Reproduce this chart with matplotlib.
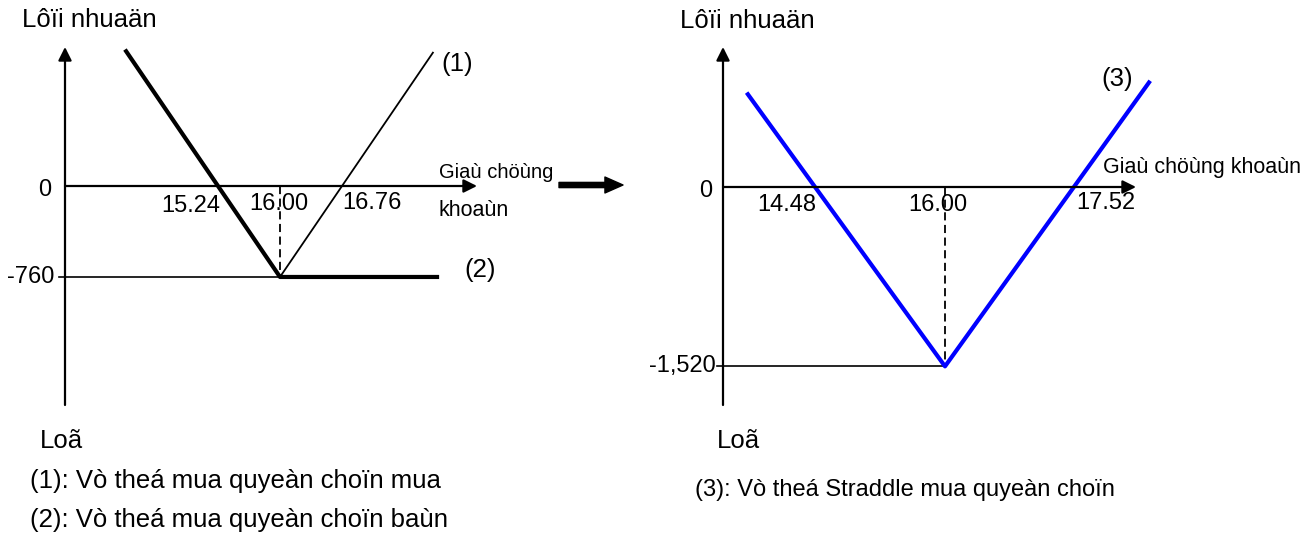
import matplotlib.pyplot as plt
from matplotlib.patches import FancyArrowPatch, ArrowStyle

plt.rcParams["font.family"] = ["Liberation Sans", "DejaVu Sans"]

W, H = 1307, 545
dpi = 100

# left chart: (1) long call, (2) long put, strike 16.00, premium 760
strike = 16.00
call_prices = [16.00, 17.88]
call_profit = [-760, 1120]
put_prices = [14.10, 16.00, 17.95]
put_profit = [1140, -760, -760]
left_floor = -760
left_ticks = [15.24, 16.00, 16.76]
left_tick_labels = ["15.24", "16.00", "16.76"]
left_floor_label = "-760"

# right chart: (3) long straddle, premium 1520
straddle_prices = [13.68, 16.00, 18.40]
straddle_profit = [800, -1520, 900]
right_floor = -1520
right_ticks = [14.48, 16.00, 17.52]
right_tick_labels = ["14.48", "16.00", "17.52"]
right_floor_label = "-1,520"

profit_label = "Lôïi nhuaän"
loss_label = "Loã"
price_label = "Giaù chöùng khoaùn"
price_label_left = ["Giaù chöùng", "khoaùn"]
note_1 = "(1): Vò theá mua quyeàn choïn mua"
note_2 = "(2): Vò theá mua quyeàn choïn baùn"
note_3 = "(3): Vò theá Straddle mua quyeàn choïn"

narrow = ["Liberation Sans Narrow", "Liberation Sans"]

fig = plt.figure(figsize=(W / dpi, H / dpi), dpi=dpi)


def ftext(x, y, s, **kw):
    # place text at pixel position (origin top-left)
    fig.text(x / W, 1 - y / H, s, **kw)


def panel(x0, x1, x_strike, sx, y_zero, sy):
    # axes whose data scale maps price/profit onto the pixel layout
    ax = fig.add_axes([x0 / W, 0, (x1 - x0) / W, 1])
    ax.set_xlim(strike - (x_strike - x0) / sx, strike + (x1 - x_strike) / sx)
    ax.set_ylim(-(H - y_zero) / sy, y_zero / sy)
    ax.axis("off")
    return ax


def axes_arrows(ax, x_axis, x_end, y_bottom, y_top):
    arrow = dict(arrowstyle="-|>", color="black", lw=1.6, mutation_scale=20,
                 shrinkA=0, shrinkB=0)
    ax.annotate("", xy=(x_axis, y_top), xytext=(x_axis, y_bottom), arrowprops=arrow)
    ax.annotate("", xy=(x_end, 0), xytext=(x_axis, 0), arrowprops=arrow)


def px_label(ax, xy, dx, dy, s, **kw):
    # label anchored at a data point, offset in pixels
    ax.annotate(s, xy=xy, xytext=(dx * 0.72, -dy * 0.72), textcoords="offset points",
                **kw)


# ---------------- left panel ----------------
axl = panel(0, 480, 280, 81.6, 186, 0.1197)
lx_axis = strike - (280 - 65) / 81.6
axes_arrows(axl, lx_axis, strike + (477 - 280) / 81.6, -(405 - 186) / 0.1197, (186 - 47) / 0.1197)

axl.plot([lx_axis - 6 / 81.6, strike], [left_floor, left_floor], color="black", lw=1.2)
axl.plot([strike, strike], [0, left_floor], color="black", lw=1.3, ls=(0, (4.5, 2.5)))
axl.plot(call_prices, call_profit, color="black", lw=1.3, solid_capstyle="butt")
axl.plot(put_prices, put_profit, color="black", lw=3.0, solid_capstyle="butt")

tick_kw = dict(fontsize=17, va="center", family=narrow)
px_label(axl, (left_ticks[0], 0), 2, 20, left_tick_labels[0], ha="right", **tick_kw)
px_label(axl, (left_ticks[1], 0), -1, 18, left_tick_labels[1], ha="center", **tick_kw)
px_label(axl, (left_ticks[2], 0), 0, 17, left_tick_labels[2], ha="left", **tick_kw)
px_label(axl, (lx_axis, 0), -20, 4, "0", ha="center", **tick_kw)
px_label(axl, (lx_axis, left_floor), -11, 0, left_floor_label, ha="right", **tick_kw)

big = 18.5
ftext(22, 27, profit_label, fontsize=big, va="baseline")
ftext(40, 441, loss_label, fontsize=big, va="center")
ftext(439, 173, price_label_left[0], fontsize=14.5, va="center", family=narrow)
ftext(439, 210, price_label_left[1], fontsize=15.5, va="center", family=narrow)
ftext(457, 64, "(1)", fontsize=big, ha="center", va="center")
ftext(480, 270, "(2)", fontsize=big, ha="center", va="center")
ftext(30, 481, note_1, fontsize=big, va="center")
ftext(30, 520, note_2, fontsize=big, va="center")

# arrow between the panels
fig.add_artist(FancyArrowPatch((559 / W, 1 - 185 / H), (623 / W, 1 - 185 / H),
                               transform=fig.transFigure,
                               arrowstyle=ArrowStyle.Simple(head_length=0.52, head_width=0.46,
                                                            tail_width=0.15),
                               mutation_scale=25, color="black", shrinkA=0, shrinkB=0))

# ---------------- right panel ----------------
axr = panel(640, W, 945, 85.5, 187, 0.118)
rx_axis = strike - (945 - 723) / 85.5
axes_arrows(axr, rx_axis, strike + (1136 - 945) / 85.5, -(405 - 187) / 0.118, (187 - 47) / 0.118)

axr.plot([rx_axis - 6 / 85.5, strike], [right_floor, right_floor], color="black", lw=1.2)
axr.plot([strike, strike], [0, right_floor], color="black", lw=1.3, ls=(0, (4.5, 2.5)))
axr.plot(straddle_prices, straddle_profit, color="#0000ff", lw=3.0, solid_capstyle="butt")

px_label(axr, (right_ticks[0], 0), 1, 18, right_tick_labels[0], ha="right", **tick_kw)
px_label(axr, (right_ticks[1], 0), -7, 18, right_tick_labels[1], ha="center", **tick_kw)
px_label(axr, (right_ticks[2], 0), 1, 16, right_tick_labels[2], ha="left", **tick_kw)
px_label(axr, (rx_axis, 0), -17, 4, "0", ha="center", **tick_kw)
px_label(axr, (rx_axis, right_floor), -7, 0, right_floor_label, ha="right", **tick_kw)

ftext(680, 28, profit_label, fontsize=big, va="baseline")
ftext(717, 441, loss_label, fontsize=big, va="center")
ftext(1103, 168, price_label, fontsize=15.5, va="center", family=narrow)
ftext(1117, 79, "(3)", fontsize=big, ha="center", va="center")
ftext(695, 490, note_3, fontsize=17, va="center")

fig.savefig("out.png", dpi=dpi, facecolor="white")
